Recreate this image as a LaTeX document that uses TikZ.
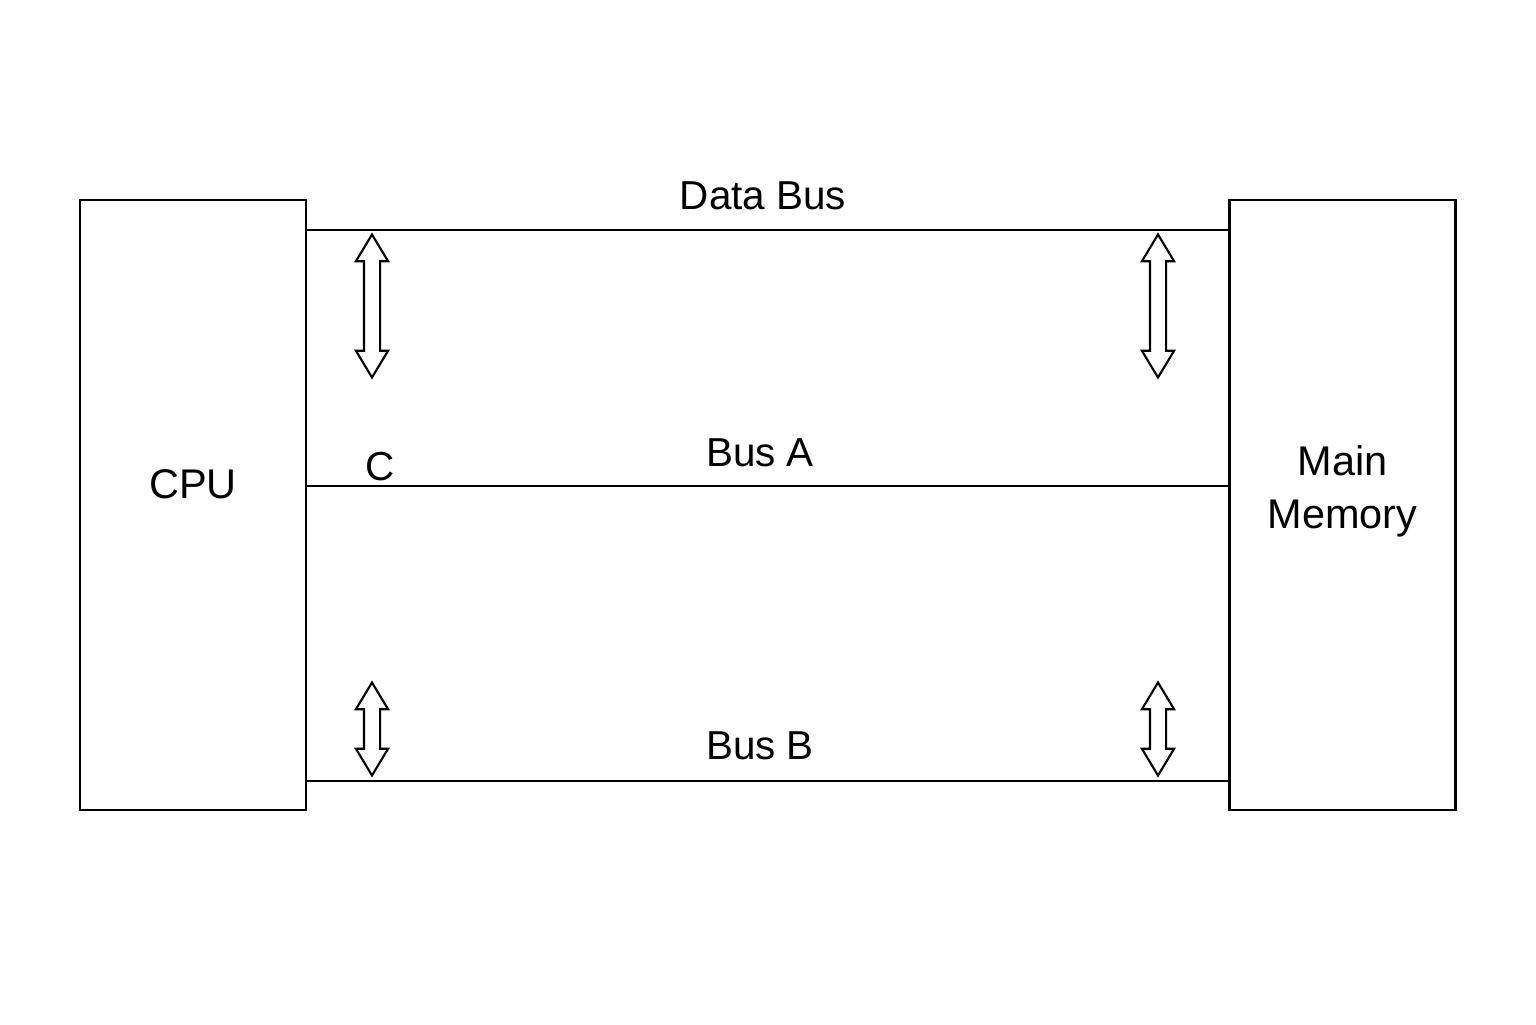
\documentclass[tikz,border=0pt]{standalone}
\usepackage{fontspec}
\setmainfont{Liberation Sans}
\usetikzlibrary{positioning}
\usetikzlibrary{shapes.arrows}

\begin{document}
\begin{tikzpicture}
            [unit/.style={draw, thick, minimum width=2.26cm, minimum height=6.1cm},
            unittext/.style={align=center, font=\fontsize{11.8}{15}\selectfont},
            bus/.style={thick},
            buslabel/.style={font=\fontsize{11.5}{14}\selectfont},
            link/.style={draw, double arrow, rotate=90, inner sep=0.07cm, double arrow head extend=0.08cm,
                double arrow tip angle=62, semithick},
            ]
            \useasboundingbox (0,0) rectangle (15.36,10.24);
            \node[unit] (cpu) at (1.93,5.19) {};
            \node[unit] (mem) at (13.425,5.19) {};
            \node[unittext] (cputext) at ([yshift=0.21cm]cpu.center) {CPU};
            \node[unittext] (memtext) at ([yshift=0.14cm]mem.center) {Main\\Memory};

            % bus lines
            \coordinate (dl) at (3.06,7.94);
            \coordinate (dr) at (12.29,7.94);
            \coordinate (al) at (3.06,5.38);
            \coordinate (ar) at (12.29,5.38);
            \coordinate (bl) at (3.06,2.43);
            \coordinate (br) at (12.29,2.43);
            \draw[bus] (dl) -- (dr);
            \draw[bus] (al) -- (ar);
            \draw[bus] (bl) -- (br);

            \node[buslabel] (dlab) at (7.63,8.28) {Data Bus};
            \node[buslabel] (alab) at (7.60,5.71) {Bus A};
            \node[buslabel] (blab) at (7.60,2.78) {Bus B};
            \node[buslabel] (clab) at (3.80,5.57) {C};

            % double arrows
            \node[link, minimum height=1.43cm] (d1) at (3.72,7.18) {};
            \node[link, minimum height=1.43cm] (d2) at (11.58,7.18) {};
            \node[link, minimum height=0.93cm] (b1) at (3.72,2.95) {};
            \node[link, minimum height=0.93cm] (b2) at (11.58,2.95) {};
\end{tikzpicture}
\end{document}
